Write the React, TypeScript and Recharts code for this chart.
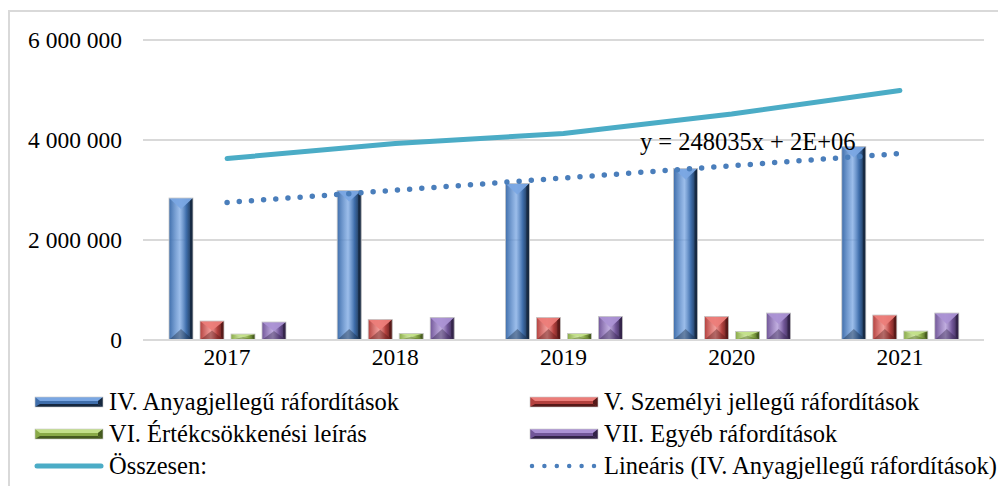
import React from 'react';
import { ComposedChart, Bar, Line, XAxis, YAxis, CartesianGrid, LabelList } from 'recharts';

const years = ['2017', '2018', '2019', '2020', '2021'];
const anyag = [2840000, 2990000, 3130000, 3430000, 3870000];
const szemelyi = [380000, 410000, 450000, 470000, 500000];
const ertekcs = [120000, 130000, 130000, 170000, 180000];
const egyeb = [360000, 450000, 470000, 540000, 540000];
const osszesen = [3630000, 3930000, 4130000, 4520000, 4990000];
// trendline endpoints
const trend = [2750000, null, null, null, 3730000];
const yTicks = [0, 2000000, 4000000, 6000000];
const equation = 'y = 248035x + 2E+06';

const data = years.map((year, i) => ({
  year,
  anyag: anyag[i],
  szemelyi: szemelyi[i],
  ertekcs: ertekcs[i],
  egyeb: egyeb[i],
  osszesen: osszesen[i],
  trend: trend[i],
}));

const FONT = '"Liberation Serif", "Times New Roman", serif';

const palette: Record<string, { base: string; light: string; dark: string }> = {
  blue: { base: '#3f6eab', light: '#7aa7e3', dark: '#16283f' },
  red: { base: '#b3413e', light: '#ec7d79', dark: '#561918' },
  green: { base: '#89aa48', light: '#c3e08a', dark: '#455a1f' },
  purple: { base: '#715698', light: '#ab92d4', dark: '#322348' },
};

const Defs = () => (
  <defs>
    {Object.entries(palette).map(([k, c]) => (
      <linearGradient key={k} id={`body-${k}`} x1="0" y1="0" x2="1" y2="0">
        <stop offset="0%" stopColor={c.base} />
        <stop offset="45%" stopColor={c.light} stopOpacity={0.75} />
        <stop offset="72%" stopColor={c.base} />
        <stop offset="100%" stopColor={c.dark} />
      </linearGradient>
    ))}
  </defs>
);

const bevelShape = (key: string) => (props: any) => {
  const { x, y, width: w, height: h } = props;
  if (!h || h <= 0) return null;
  const c = palette[key];
  const b = Math.min(w / 2, h / 2, 11);
  const cx = x + w / 2;
  return (
    <g>
      <rect x={x} y={y} width={w} height={h} fill={`url(#body-${key})`} />
      <polygon points={`${x},${y} ${x + w},${y} ${cx},${y + b}`} fill={c.light} opacity={0.95} />
      <polygon points={`${x},${y + h} ${x + w},${y + h} ${cx},${y + h - b}`} fill={c.dark} opacity={0.4} />
      <polygon points={`${x + w},${y} ${x + w},${y + h} ${x + w - 3},${y + h - 3} ${x + w - 3},${y + 3}`} fill={c.dark} opacity={0.85} />
      <rect x={x} y={y} width={w} height={h} fill="none" stroke="#c8c8c8" strokeWidth={0.8} />
    </g>
  );
};

const fmt = (v: number) => String(v).replace(/\B(?=(\d{3})+(?!\d))/g, ' ');

const renderEquation = (props: any) => {
  const { x, y, index } = props;
  if (index !== trend.length - 1) return null;
  return (
    <text x={x - 260} y={y - 4} fontFamily={FONT} fontSize={24.5} fill="#000">
      {equation}
    </text>
  );
};

const BarIcon = ({ k }: { k: string }) => {
  const c = palette[k];
  return (
    <svg width={70} height={14} style={{ display: 'block' }}>
      <rect x={1} y={2} width={68} height={10} fill={c.base} />
      <polygon points="1,2 69,2 64,6 6,6" fill={c.light} />
      <polygon points="1,12 69,12 64,9 6,9" fill={c.dark} />
      <polygon points="64,6 69,2 69,12 64,9" fill={c.dark} />
      <rect x={1} y={2} width={68} height={10} fill="none" stroke="#c8c8c8" strokeWidth={0.6} />
    </svg>
  );
};

const legendItems = [
  { name: 'IV. Anyagjellegű ráfordítások', icon: <BarIcon k="blue" /> },
  { name: 'V. Személyi jellegű ráfordítások', icon: <BarIcon k="red" /> },
  { name: 'VI. Értékcsökkenési leírás', icon: <BarIcon k="green" /> },
  { name: 'VII. Egyéb ráfordítások', icon: <BarIcon k="purple" /> },
  {
    name: 'Összesen:',
    icon: (
      <svg width={70} height={14} style={{ display: 'block' }}>
        <line x1={3} y1={7} x2={67} y2={7} stroke="#4bacc6" strokeWidth={5} strokeLinecap="round" />
      </svg>
    ),
  },
  {
    name: 'Lineáris (IV. Anyagjellegű ráfordítások)',
    icon: (
      <svg width={70} height={14} style={{ display: 'block' }}>
        <line x1={3} y1={7} x2={68} y2={7} stroke="#4a7ebb" strokeWidth={4.5} strokeLinecap="round" strokeDasharray="0 12.4" />
      </svg>
    ),
  },
];

export default function App() {
  return (
    <div
      style={{
        position: 'relative',
        top: 2,
        width: 996,
        height: 476,
        borderLeft: '2px solid #d9d9d9',
        borderTop: '2px solid #d9d9d9',
        fontFamily: FONT,
      }}
    >
      <ComposedChart
        width={996}
        height={372}
        data={data}
        margin={{ top: 28, right: 22, left: 0, bottom: 4 }}
        barSize={24}
        barGap={7}
      >
        <Defs />
        <CartesianGrid vertical={false} stroke="#d9d9d9" strokeWidth={2} />
        <XAxis
          dataKey="year"
          axisLine={{ stroke: '#d9d9d9', strokeWidth: 2 }}
          tickLine={false}
          tickSize={0}
          tickMargin={8}
          height={40}
          tick={{ fontFamily: FONT, fontSize: 23.5, fill: '#000' }}
        />
        <YAxis
          domain={[0, 6000000]}
          ticks={yTicks}
          width={133}
          axisLine={false}
          tickLine={false}
          tickSize={0}
          tickMargin={21}
          tickFormatter={fmt}
          tick={{ fontFamily: FONT, fontSize: 23.5, fill: '#000' }}
        />
        <Bar dataKey="anyag" shape={bevelShape('blue')} isAnimationActive={false} />
        <Bar dataKey="szemelyi" shape={bevelShape('red')} isAnimationActive={false} />
        <Bar dataKey="ertekcs" shape={bevelShape('green')} isAnimationActive={false} />
        <Bar dataKey="egyeb" shape={bevelShape('purple')} isAnimationActive={false} />
        <Line
          dataKey="osszesen"
          stroke="#4bacc6"
          strokeWidth={5}
          strokeLinecap="round"
          dot={false}
          isAnimationActive={false}
        />
        <Line
          dataKey="trend"
          stroke="#4a7ebb"
          strokeWidth={5.5}
          strokeLinecap="round"
          strokeDasharray="0 12.2"
          connectNulls
          dot={false}
          isAnimationActive={false}
        >
          <LabelList dataKey="trend" content={renderEquation} />
        </Line>
      </ComposedChart>
      <div style={{ position: 'absolute', left: 0, top: 378, width: 996 }}>
        {legendItems.map((it, i) => (
          <div
            key={it.name}
            style={{
              position: 'absolute',
              left: i % 2 === 0 ? 24 : 519,
              top: Math.floor(i / 2) * 32,
              display: 'flex',
              alignItems: 'center',
              height: 24,
              whiteSpace: 'nowrap',
              fontSize: 24.5,
              color: '#000',
            }}
          >
            {it.icon}
            <span style={{ marginLeft: 5, lineHeight: '24px' }}>{it.name}</span>
          </div>
        ))}
      </div>
    </div>
  );
}
